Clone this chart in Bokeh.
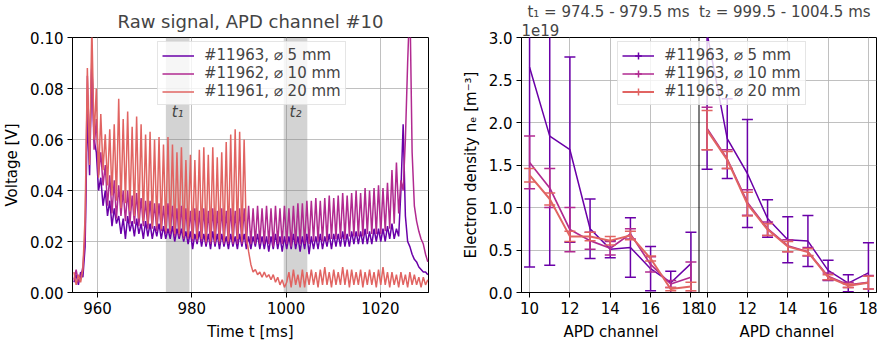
import numpy as np
from bokeh.plotting import figure
from bokeh.models import (ColumnDataSource, BoxAnnotation, Label, Legend, LegendItem, Span, Title,
                          SingleIntervalTicker, FixedTicker, NumeralTickFormatter,
                          CustomJSTickFormatter, Range1d)
from bokeh.layouts import row
from bokeh.transform import dodge
from bokeh.embed import file_html
from bokeh.resources import INLINE

FONT = "DejaVu Sans"
COLORS = ["#6a00a8", "#b12a90", "#e16462"]
FS = "15px"
NBSP = "\u00a0"

# ---------------- data: raw signal (left) ----------------
T_START = 955.0      # ms, first sample
T_STEP = 0.475       # ms, sample spacing (half oscillation period)
raw_labels = ["#11963, \u2300 5 mm", "#11962, \u2300 10 mm", "#11961, \u2300 20 mm"]

sig_11963 = [
    0.004, 0.007, 0.003, 0.008, 0.006,
    0.018, 0.070, 0.046, 0.090, 0.060, 0.055, 0.040,
    0.045, 0.034, 0.040, 0.030, 0.036, 0.026, 0.033, 0.027, 0.030, 0.023,
    0.029, 0.021, 0.030, 0.024, 0.028, 0.022, 0.029, 0.023, 0.027, 0.021,
    0.028, 0.022, 0.027, 0.021, 0.026, 0.022, 0.027, 0.021, 0.026, 0.021,
    0.025, 0.021, 0.026, 0.020, 0.025, 0.021, 0.025, 0.020, 0.024, 0.019,
    0.024, 0.017, 0.023, 0.019, 0.024, 0.018, 0.023, 0.018, 0.023, 0.017,
    0.024, 0.018, 0.023, 0.017, 0.023, 0.018, 0.022, 0.017, 0.023, 0.018,
    0.022, 0.017, 0.023, 0.018, 0.023, 0.017,
    0.022, 0.017, 0.022, 0.018, 0.023, 0.017, 0.022, 0.017, 0.022, 0.016,
    0.022, 0.017, 0.023, 0.017, 0.022, 0.016, 0.022, 0.017, 0.022, 0.017,
    0.023, 0.017, 0.022, 0.016, 0.022, 0.017, 0.023, 0.015, 0.022, 0.017,
    0.022, 0.017, 0.023, 0.017, 0.022, 0.018, 0.023, 0.017, 0.023, 0.018,
    0.023, 0.018, 0.024, 0.018, 0.023, 0.018, 0.024, 0.019, 0.024, 0.019,
    0.024, 0.019, 0.025, 0.019, 0.024, 0.019, 0.025, 0.020, 0.025, 0.020,
    0.025, 0.020,
    0.026, 0.021, 0.027, 0.021, 0.025, 0.022, 0.040, 0.066, 0.030, 0.020,
    0.018, 0.015, 0.013, 0.012, 0.010, 0.009, 0.008, 0.008, 0.007,
]
sig_11962 = [
    0.005, 0.009, 0.004, 0.006, 0.010,
    0.022, 0.085, 0.052, 0.092, 0.056, 0.068, 0.046,
    0.055, 0.042, 0.050, 0.034, 0.046, 0.031, 0.044, 0.029, 0.042, 0.030,
    0.040, 0.028, 0.040, 0.027, 0.038, 0.027, 0.039, 0.026, 0.037, 0.026,
    0.036, 0.025, 0.036, 0.025, 0.035, 0.024, 0.035, 0.024, 0.034, 0.023,
    0.035, 0.023, 0.034, 0.022, 0.033, 0.022, 0.034, 0.021, 0.033, 0.021,
    0.032, 0.020, 0.033, 0.020, 0.032, 0.020, 0.033, 0.019, 0.032, 0.019,
    0.033, 0.019, 0.032, 0.019, 0.033, 0.019, 0.032, 0.019, 0.033, 0.019,
    0.032, 0.019, 0.033, 0.019, 0.033, 0.019,
    0.034, 0.019, 0.033, 0.019, 0.034, 0.019, 0.033, 0.019, 0.034, 0.019,
    0.033, 0.018, 0.034, 0.019, 0.033, 0.019, 0.034, 0.019, 0.033, 0.018,
    0.034, 0.019, 0.035, 0.019, 0.035, 0.019, 0.036, 0.019, 0.036, 0.020,
    0.037, 0.020, 0.036, 0.020, 0.037, 0.020, 0.038, 0.021, 0.037, 0.021,
    0.038, 0.021, 0.039, 0.021, 0.038, 0.022, 0.039, 0.022, 0.040, 0.022,
    0.039, 0.022, 0.041, 0.023, 0.040, 0.023, 0.041, 0.023, 0.042, 0.023,
    0.041, 0.024,
    0.043, 0.025, 0.048, 0.027, 0.051, 0.031, 0.044, 0.040, 0.060, 0.090,
    0.115, 0.055, 0.034, 0.028, 0.024, 0.021, 0.019, 0.015, 0.012,
]
sig_11961 = [
    0.008, 0.003, 0.007, 0.004, 0.009,
    0.030, 0.088, 0.050, 0.105, 0.060, 0.080, 0.045,
    0.070, 0.048, 0.062, 0.042, 0.064, 0.038, 0.066, 0.036, 0.076, 0.033,
    0.068, 0.035, 0.071, 0.032, 0.065, 0.030, 0.069, 0.029, 0.066, 0.028,
    0.062, 0.027, 0.063, 0.026, 0.060, 0.026, 0.061, 0.025, 0.058, 0.024,
    0.061, 0.024, 0.058, 0.023, 0.055, 0.023, 0.057, 0.022, 0.052, 0.022,
    0.054, 0.021, 0.052, 0.021, 0.056, 0.021, 0.057, 0.020, 0.054, 0.020,
    0.057, 0.020, 0.053, 0.020, 0.055, 0.020, 0.059, 0.020, 0.062, 0.020,
    0.064, 0.021, 0.063, 0.020, 0.060, 0.022,
    0.016, 0.011,
    0.008, 0.009, 0.007, 0.008, 0.006, 0.008, 0.006, 0.007, 0.005, 0.007,
    0.004, 0.006, 0.003, 0.005, 0.002, 0.004,
    0.008, 0.002, 0.009, 0.003, 0.007, 0.002, 0.009, 0.002, 0.008, 0.003,
    0.009, 0.003, 0.008, 0.002, 0.009, 0.003, 0.010, 0.003, 0.008, 0.002,
    0.009, 0.003, 0.008, 0.003, 0.010, 0.003, 0.009, 0.002, 0.009, 0.003,
    0.008, 0.003, 0.009, 0.002, 0.008, 0.003, 0.009, 0.003, 0.008, 0.002,
    0.009, 0.003, 0.010, 0.003, 0.008, 0.002, 0.008, 0.003, 0.007, 0.002,
    0.008, 0.003, 0.007, 0.002, 0.008, 0.003, 0.007, 0.003, 0.006, 0.002,
    0.006, 0.003, 0.005,
]
t1_window = [974.5, 979.5]
t2_window = [999.5, 1004.5]

# ---------------- data: density profiles (right), units of 1e19 m^-3 ----------------
channels = [10, 11, 12, 13, 14, 15, 16, 17, 18]
prof_labels = ["#11963, \u2300 5 mm", "#11963, \u2300 10 mm", "#11963, \u2300 20 mm"]
ne_t1_5mm = [2.65, 1.84, 1.68, 0.75, 0.51, 0.53, 0.28, 0.115, 0.34]
err_t1_5mm = [2.35, 1.52, 1.09, 0.35, 0.10, 0.35, 0.26, 0.135, 0.37]
ne_t1_10mm = [1.53, 1.23, 0.74, 0.61, 0.52, 0.69, 0.33, 0.10, 0.18]
err_t1_10mm = [0.31, 0.23, 0.26, 0.10, 0.08, 0.06, 0.09, 0.04, 0.18]
ne_t1_20mm = [1.38, 1.10, 0.66, 0.66, 0.61, 0.67, 0.40, 0.04, 0.07]
err_t1_20mm = [0.08, 0.07, 0.06, 0.05, 0.05, 0.05, 0.03, 0.02, 0.05]
ne_t2_5mm = [3.05, 1.81, 1.40, 0.87, 0.62, 0.605, 0.26, 0.11, 0.23]
err_t2_5mm = [1.60, 0.47, 0.635, 0.22, 0.27, 0.30, 0.12, 0.10, 0.355]
ne_t2_10mm = [1.93, 1.57, 1.06, 0.75, 0.55, 0.48, 0.19, 0.09, 0.12]
err_t2_10mm = [0.25, 0.11, 0.15, 0.08, 0.07, 0.05, 0.04, 0.03, 0.08]
ne_t2_20mm = [1.91, 1.56, 1.04, 0.74, 0.54, 0.475, 0.18, 0.08, 0.115]
err_t2_20mm = [0.23, 0.10, 0.14, 0.07, 0.06, 0.04, 0.03, 0.02, 0.075]

# ---------------- helpers ----------------
def style(p):
    p.outline_line_color = "black"
    p.outline_line_width = 1
    p.outline_line_alpha = 1
    p.background_fill_color = "white"
    p.border_fill_color = "white"
    for ax in p.axis:
        ax.major_tick_out = 5
        ax.major_tick_in = 0
        ax.minor_tick_out = 0
        ax.minor_tick_in = 0
        ax.major_label_text_font = FONT
        ax.major_label_text_font_size = FS
        ax.major_label_text_color = "black"
        ax.axis_label_text_font = FONT
        ax.axis_label_text_font_size = FS
        ax.axis_label_text_font_style = "normal"
        ax.axis_label_text_color = "black"
        ax.major_label_standoff = 4
        ax.axis_label_standoff = 6
        ax.axis_line_color = "black"
        ax.major_tick_line_color = "black"
    p.grid.grid_line_color = "#b0b0b0"
    p.grid.grid_line_alpha = 0.8


def style_legend(leg):
    leg.label_text_font = FONT
    leg.label_text_font_size = FS
    leg.glyph_width = 32
    leg.glyph_height = 17
    leg.label_height = 17
    leg.label_standoff = 10
    leg.padding = 4
    leg.spacing = 0
    leg.margin = 0
    leg.border_line_color = "#cccccc"
    leg.border_line_width = 1
    leg.background_fill_alpha = 0.8


# ---------------- left figure ----------------
t = T_START + T_STEP * np.arange(len(sig_11963))
src = ColumnDataSource(dict(t=t, s5=sig_11963, s10=sig_11962, s20=sig_11961))

p1 = figure(frame_width=356, frame_height=255, min_border_left=72, min_border_right=12,
            min_border_top=37, min_border_bottom=51,
            x_range=Range1d(954.7, 1030.2), y_range=Range1d(0, 0.1),
            output_backend="svg", toolbar_location=None)
p1.add_layout(Title(text="Raw signal, APD channel #10", align="center", text_font=FONT,
                    text_font_size="18px", text_font_style="normal", standoff=12), "above")

for win in (t1_window, t2_window):
    p1.add_layout(BoxAnnotation(left=win[0], right=win[1], fill_color="grey", fill_alpha=0.35,
                                line_color=None, level="underlay"))

rs = []
for key, c in zip(["s5", "s10", "s20"], COLORS):
    rs.append(p1.line("t", key, source=src, line_color=c, line_width=1.5))

for win, txt in ((t1_window, "t\u2081"), (t2_window, "t\u2082")):
    p1.add_layout(Label(x=sum(win) / 2, y=p1.y_range.end, y_offset=-74, text=txt,
                        text_align="center", text_baseline="middle",
                        text_font=FONT, text_font_size=FS, text_font_style="italic"))

p1.xaxis.ticker = SingleIntervalTicker(interval=20)
p1.yaxis.ticker = SingleIntervalTicker(interval=0.02)
p1.yaxis.formatter = NumeralTickFormatter(format="0.00")
p1.xaxis.axis_label = "Time t [ms]"
p1.yaxis.axis_label = "Voltage [V]"
style(p1)

leg1 = Legend(items=[LegendItem(label=l, renderers=[r]) for l, r in zip(raw_labels, rs)],
              location=(85, 255 - 6 - 62))
style_legend(leg1)
p1.add_layout(leg1)

# ---------------- right figure (two sub-panels sharing y) ----------------
CH_LO, CH_HI = 9.6, 18.4
OFFSET = CH_HI - CH_LO

def mk(ne, err):
    ne = np.array(ne); err = np.array(err)
    return dict(y=ne, lo=ne - err, hi=ne + err)

sets_t1 = [mk(ne_t1_5mm, err_t1_5mm), mk(ne_t1_10mm, err_t1_10mm), mk(ne_t1_20mm, err_t1_20mm)]
sets_t2 = [mk(ne_t2_5mm, err_t2_5mm), mk(ne_t2_10mm, err_t2_10mm), mk(ne_t2_20mm, err_t2_20mm)]

p2 = figure(frame_width=355, frame_height=255, min_border_left=81, min_border_right=1,
            min_border_top=37, min_border_bottom=51,
            x_range=Range1d(CH_LO, CH_LO + 2 * OFFSET), y_range=Range1d(0, 3.0),
            output_backend="svg", toolbar_location=None)

widths = [1.5, 1.7, 2.0]
leg_rs = []
for i, c in enumerate(COLORS):
    for shift, d in ((0.0, sets_t1[i]), (OFFSET, sets_t2[i])):
        s = ColumnDataSource(dict(ch=channels, **d))
        xs = dodge("ch", shift)
        ln = p2.line(x=xs, y="y", source=s, line_color=c, line_width=widths[i])
        p2.segment(x0=xs, y0="lo", x1=xs, y1="hi", source=s, line_color=c, line_width=1.5)
        p2.scatter(x=xs, y="lo", source=s, marker="dash", size=11, line_color=c, line_width=1.5)
        p2.scatter(x=xs, y="hi", source=s, marker="dash", size=11, line_color=c, line_width=1.5)
        if shift == 0.0:
            mark = p2.scatter(x=xs, y="y", source=s, marker="cross", size=0, line_color=c,
                              line_width=1.5)
            leg_rs.append([ln, mark])

p2.add_layout(Span(location=CH_HI, dimension="height", line_color="black", line_width=1))

ticks = channels[::2] + [ch + OFFSET for ch in channels[::2]]
p2.xaxis.ticker = FixedTicker(ticks=ticks)
p2.xaxis.formatter = CustomJSTickFormatter(args=dict(hi=CH_HI, off=OFFSET),
                                           code="return String(Math.round(tick > hi ? tick - off : tick));")
p2.yaxis.ticker = SingleIntervalTicker(interval=0.5)
p2.yaxis.formatter = NumeralTickFormatter(format="0.0")
p2.yaxis.axis_label = "Electron density n\u2091 [m\u207b\u00b3]"
p2.xaxis.axis_label = "APD channel" + NBSP * 17 + "APD channel"
style(p2)

# titles of the two sub-panels (one centered line), plus the 1e19 multiplier
p2.add_layout(Title(text="1e19", align="left", text_font=FONT, text_font_size=FS,
                    text_font_style="normal", standoff=3), "above")
p2.add_layout(Title(text="t\u2081 = %s - %s ms" % tuple(t1_window) + NBSP + " " +
                         "t\u2082 = %s - %s ms" % tuple(t2_window),
                    align="center", text_font=FONT, text_font_size=FS,
                    text_font_style="normal", standoff=0), "above")

leg2 = Legend(items=[LegendItem(label=l, renderers=r) for l, r in zip(prof_labels, leg_rs)],
              location=(96, 255 - 6 - 62))
style_legend(leg2)
p2.add_layout(leg2)

layout = row(p1, p2)
open("out.html", "w").write(file_html(layout, INLINE))
